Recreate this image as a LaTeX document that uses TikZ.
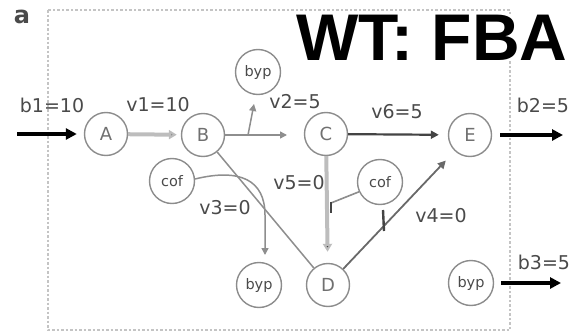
\documentclass[tikz,border=0pt]{standalone}
\usepackage{fontspec}
\setmainfont{DejaVu Sans}
\newfontfamily\titlefont{Liberation Sans}
\usetikzlibrary{arrows.meta}
\definecolor{ring}{HTML}{8C8C8C}
\definecolor{nodetxt}{HTML}{707070}
\definecolor{labtxt}{HTML}{4A4A4A}
\definecolor{pale}{HTML}{BDBDBD}
\definecolor{mid}{HTML}{8E8E8E}
\definecolor{dark}{HTML}{444444}
\definecolor{framecol}{HTML}{C4C4C4}
\tikzset{
  met/.style={circle, draw=ring, line width=1.4pt, minimum size=43pt, inner sep=0pt,
    text=nodetxt, font=\fontsize{18}{18}\selectfont},
  cofac/.style={circle, draw=ring, line width=1.4pt, minimum size=45pt, inner sep=0pt,
    text=labtxt, font=\fontsize{14.5}{14.5}\selectfont},
  lab/.style={text=labtxt, font=\fontsize{19}{19}\selectfont, inner sep=0pt},
  exch/.style={black, line width=3.2pt, -{Triangle[length=11pt,width=11pt]}},
  fluxpale/.style={pale, line width=4pt},
  fluxthin/.style={mid, line width=1.5pt},
  fluxdark/.style={dark, line width=2.2pt},
}
\begin{document}
\begin{tikzpicture}[x=1pt,y=-1pt]
\useasboundingbox (0,0) rectangle (576,332);
% panel frame
\draw[framecol, line width=1.6pt, dash pattern=on 2.5pt off 2pt] (48,10) rectangle (510,330);
% panel letter and title
\node[text=labtxt, font=\bfseries\fontsize{24}{24}\selectfont, inner sep=0pt] (panel) at (22,17) {a};
\node[font=\titlefont\bfseries\fontsize{66}{66}\selectfont, fill=white, inner sep=0pt] (title) at (432,38) {WT: FBA};

% metabolites
\node[met] (A) at (106,134) {A};
\node[met] (B) at (203,135) {B};
\node[met] (C) at (326,134) {C};
\node[met] (E) at (470,135) {E};
\node[met] (D) at (328,285) {D};
% cofactors
\node[cofac] (bypT) at (258,72) {byp};
\node[cofac] (cofL) at (172,181) {cof};
\node[cofac] (cofR) at (380,182) {cof};
\node[cofac] (bypL) at (259,285) {byp};
\node[cofac] (bypR) at (471,283) {byp};

% free ends
\coordinate (b1s) at (17,134);
\coordinate (b2e) at (563,135);
\coordinate (b3e) at (561,283);
\coordinate (v2br) at (248,135);
\coordinate (v2top) at (254,104);
\coordinate (v2end) at (287,135);
\coordinate (v3end) at (265,255);
\coordinate (v5j) at (331,203);

% exchange fluxes
\draw[exch, shorten >=7pt] (b1s) -- (A);
\draw[exch, shorten <=8pt] (E) -- (b2e);
\draw[exch, shorten <=7pt] (bypR) -- (b3e);

% v1
\draw[fluxpale, -{Triangle[length=8pt,width=9pt,fill=mid]}, shorten >=4pt] (A) -- (B);
% v2
\draw[fluxthin, -{Triangle[length=7pt,width=7pt]}] (B) -- (v2end);
\draw[fluxthin, -{Triangle[length=7pt,width=7pt]}] (v2br) -- (v2top);
% v6
\draw[fluxdark, -{Triangle[length=8pt,width=8pt]}, shorten >=9pt] (C) -- (E);
% v3
\draw[fluxthin] (B) -- (D);
\draw[fluxthin, -{Triangle[length=7pt,width=7pt]}] (cofL.5) .. controls (240,168) and (265,180) .. (265,215) -- (v3end);
% v5
\draw[fluxpale, -{Triangle[length=8pt,width=9pt,fill=dark]}, shorten >=11pt, draw=pale] (C) -- (D);
\draw[mid, line width=1.6pt] (cofR.205) -- (v5j);
\draw[dark, line width=2.4pt] (331,202) -- (331,213);
% v4
\draw[dark!80, line width=1.8pt, -{Triangle[length=8pt,width=8pt]}, shorten >=13pt] (D) -- (E);
\draw[dark, line width=2.4pt] (383,210) -- (384,231);

% flux labels
\node[lab] (lb1) at (52,105) {b1=10};
\node[lab] (lv1) at (158,105) {v1=10};
\node[lab] (lv2) at (295,102) {v2=5};
\node[lab] (lv6) at (397,112) {v6=5};
\node[lab] (lb2) at (543,105) {b2=5};
\node[lab] (lv5) at (299,183) {v5=0};
\node[lab] (lv3) at (225,208) {v3=0};
\node[lab] (lv4) at (441,216) {v4=0};
\node[lab] (lb3) at (544,262) {b3=5};
\end{tikzpicture}
\end{document}
